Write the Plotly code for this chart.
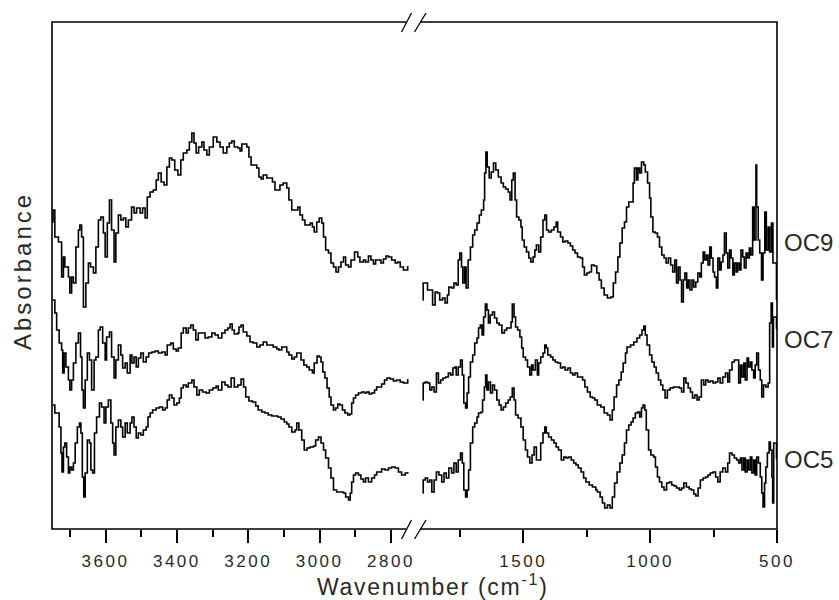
import plotly.graph_objects as go

# FTIR absorbance spectra (stacked), two wavenumber windows: high (O-H/C-H) and low (fingerprint)
# each list holds (wavenumber in cm-1, absorbance in a.u.) pairs

OC9_HIGH = [
    (3749, 3.07), (3747, 3.19), (3742, 2.92), (3732, 2.87), (3723, 2.52), (3718, 2.72), (3714, 2.62),
    (3704, 2.52), (3700, 2.36), (3695, 2.52), (3690, 2.46), (3683, 2.82), (3676, 2.99), (3672, 3.04),
    (3667, 2.92), (3662, 2.22), (3655, 2.46), (3648, 2.66), (3642, 2.62), (3634, 2.56), (3627, 2.82),
    (3620, 3.09), (3613, 3.12), (3606, 2.96), (3601, 2.72), (3595, 3.06), (3589, 3.29), (3583, 2.99),
    (3576, 2.67), (3571, 2.96), (3564, 3.14), (3557, 3.09), (3550, 3.11), (3543, 3.02), (3536, 3.09),
    (3527, 3.22), (3520, 3.16), (3513, 3.21), (3503, 3.16), (3496, 3.21), (3489, 3.11), (3483, 3.32),
    (3475, 3.37), (3466, 3.39), (3458, 3.49), (3452, 3.56), (3444, 3.47), (3436, 3.44), (3428, 3.62),
    (3421, 3.71), (3414, 3.69), (3406, 3.59), (3397, 3.54), (3389, 3.69), (3382, 3.76), (3372, 3.79),
    (3365, 3.87), (3358, 3.96), (3352, 3.86), (3346, 3.76), (3339, 3.82), (3330, 3.87), (3324, 3.79),
    (3316, 3.74), (3309, 3.82), (3298, 3.92), (3288, 3.87), (3279, 3.82), (3270, 3.76), (3260, 3.82),
    (3253, 3.86), (3246, 3.88), (3239, 3.82), (3229, 3.81), (3223, 3.78), (3218, 3.85), (3209, 3.85),
    (3204, 3.82), (3198, 3.72), (3192, 3.64), (3183, 3.64), (3176, 3.61), (3170, 3.52), (3164, 3.50),
    (3158, 3.54), (3148, 3.51), (3139, 3.51), (3132, 3.47), (3125, 3.39), (3117, 3.39), (3111, 3.44),
    (3102, 3.46), (3092, 3.41), (3086, 3.29), (3078, 3.19), (3069, 3.19), (3061, 3.22), (3055, 3.14),
    (3048, 3.09), (3041, 3.04), (3033, 3.04), (3026, 3.06), (3020, 3.02), (3015, 2.97), (3008, 3.07),
    (3001, 3.11), (2994, 3.06), (2989, 2.92), (2983, 2.79), (2975, 2.76), (2968, 2.66), (2961, 2.62),
    (2954, 2.57), (2947, 2.62), (2940, 2.67), (2933, 2.72), (2927, 2.64), (2919, 2.62), (2912, 2.69),
    (2902, 2.77), (2893, 2.72), (2887, 2.67), (2877, 2.69), (2871, 2.67), (2863, 2.73), (2856, 2.69),
    (2849, 2.65), (2843, 2.69), (2835, 2.69), (2828, 2.66), (2821, 2.70), (2814, 2.73), (2807, 2.72),
    (2798, 2.69), (2788, 2.66), (2781, 2.67), (2774, 2.62), (2765, 2.59), (2753, 2.63),
]

OC7_HIGH = [
    (3748, 2.29), (3742, 2.16), (3737, 1.99), (3730, 1.86), (3723, 1.79), (3720, 1.56), (3716, 1.76),
    (3711, 1.62), (3704, 1.49), (3700, 1.39), (3695, 1.49), (3690, 1.66), (3683, 1.86), (3676, 1.96),
    (3670, 1.72), (3666, 1.39), (3662, 1.21), (3657, 1.49), (3651, 1.76), (3645, 1.69), (3639, 1.39),
    (3632, 1.69), (3627, 1.72), (3620, 1.99), (3615, 2.02), (3608, 1.86), (3601, 1.69), (3597, 1.92),
    (3589, 1.97), (3583, 1.72), (3576, 1.51), (3571, 1.69), (3564, 1.84), (3557, 1.74), (3552, 1.61),
    (3545, 1.66), (3539, 1.56), (3531, 1.74), (3526, 1.66), (3520, 1.72), (3514, 1.62), (3508, 1.71),
    (3501, 1.76), (3494, 1.67), (3486, 1.72), (3479, 1.76), (3470, 1.77), (3461, 1.78), (3452, 1.76),
    (3442, 1.77), (3433, 1.74), (3427, 1.84), (3417, 1.86), (3410, 1.80), (3402, 1.78), (3396, 1.81),
    (3388, 1.96), (3382, 2.01), (3374, 1.96), (3368, 2.01), (3361, 2.04), (3354, 1.99), (3347, 1.89),
    (3340, 1.96), (3330, 1.96), (3321, 1.91), (3312, 1.92), (3302, 1.96), (3293, 1.94), (3284, 1.91),
    (3274, 1.96), (3265, 1.99), (3257, 2.01), (3251, 2.05), (3245, 1.99), (3239, 1.95), (3229, 1.96),
    (3226, 2.02), (3220, 2.04), (3214, 1.97), (3204, 1.93), (3195, 1.87), (3186, 1.86), (3176, 1.82),
    (3167, 1.84), (3158, 1.87), (3148, 1.84), (3139, 1.84), (3130, 1.82), (3120, 1.80), (3114, 1.79),
    (3106, 1.82), (3099, 1.82), (3092, 1.77), (3086, 1.74), (3078, 1.70), (3071, 1.72), (3064, 1.76),
    (3058, 1.76), (3052, 1.69), (3044, 1.64), (3036, 1.62), (3029, 1.59), (3020, 1.56), (3015, 1.66),
    (3007, 1.73), (3001, 1.72), (2996, 1.67), (2991, 1.57), (2985, 1.51), (2979, 1.41), (2973, 1.32),
    (2968, 1.24), (2961, 1.19), (2955, 1.21), (2949, 1.25), (2943, 1.24), (2936, 1.19), (2929, 1.16),
    (2921, 1.14), (2915, 1.15), (2910, 1.26), (2905, 1.31), (2899, 1.34), (2891, 1.36), (2882, 1.37),
    (2874, 1.36), (2868, 1.37), (2861, 1.35), (2854, 1.36), (2846, 1.39), (2840, 1.42), (2833, 1.42),
    (2826, 1.45), (2818, 1.49), (2811, 1.51), (2802, 1.50), (2793, 1.48), (2784, 1.49), (2774, 1.47),
    (2765, 1.46), (2753, 1.50),
]

OC5_HIGH = [
    (3748, 1.24), (3742, 1.16), (3735, 1.16), (3730, 1.02), (3725, 0.76), (3722, 0.57), (3718, 0.82),
    (3714, 0.86), (3709, 0.72), (3704, 0.56), (3700, 0.62), (3695, 0.59), (3690, 0.66), (3685, 0.86),
    (3679, 1.02), (3673, 1.06), (3669, 0.96), (3665, 0.52), (3661, 0.32), (3657, 0.56), (3651, 0.89),
    (3645, 0.86), (3641, 0.59), (3636, 0.56), (3631, 0.96), (3625, 1.12), (3617, 1.26), (3611, 1.22),
    (3604, 1.06), (3599, 1.22), (3592, 1.29), (3585, 1.06), (3580, 0.86), (3576, 0.74), (3571, 1.02),
    (3564, 1.09), (3557, 1.02), (3552, 0.92), (3545, 1.06), (3539, 0.96), (3531, 1.06), (3526, 1.12),
    (3520, 1.02), (3514, 0.91), (3508, 0.96), (3501, 0.94), (3494, 0.99), (3486, 1.02), (3481, 1.12),
    (3475, 1.16), (3468, 1.19), (3458, 1.21), (3449, 1.22), (3440, 1.19), (3433, 1.21), (3427, 1.29),
    (3421, 1.34), (3414, 1.31), (3408, 1.24), (3400, 1.26), (3393, 1.31), (3388, 1.41), (3382, 1.44),
    (3374, 1.42), (3368, 1.46), (3358, 1.49), (3352, 1.42), (3344, 1.34), (3337, 1.39), (3328, 1.37),
    (3318, 1.36), (3309, 1.39), (3299, 1.41), (3290, 1.43), (3284, 1.39), (3274, 1.47), (3265, 1.44),
    (3257, 1.42), (3248, 1.51), (3239, 1.42), (3229, 1.44), (3220, 1.50), (3213, 1.42), (3207, 1.32),
    (3198, 1.28), (3188, 1.27), (3179, 1.23), (3172, 1.19), (3162, 1.17), (3153, 1.16), (3144, 1.14),
    (3134, 1.13), (3125, 1.13), (3117, 1.12), (3108, 1.10), (3099, 1.07), (3092, 1.05), (3086, 1.02),
    (3078, 0.97), (3069, 0.99), (3064, 1.06), (3058, 0.99), (3050, 0.89), (3043, 0.79), (3035, 0.81),
    (3027, 0.82), (3017, 0.83), (3011, 0.89), (3003, 0.92), (2996, 0.86), (2989, 0.79), (2983, 0.71),
    (2975, 0.61), (2968, 0.51), (2961, 0.39), (2952, 0.37), (2943, 0.37), (2933, 0.36), (2927, 0.32),
    (2919, 0.29), (2914, 0.36), (2910, 0.47), (2905, 0.54), (2899, 0.56), (2891, 0.54), (2884, 0.50),
    (2877, 0.47), (2871, 0.51), (2863, 0.47), (2854, 0.51), (2846, 0.54), (2840, 0.57), (2833, 0.57),
    (2826, 0.60), (2816, 0.59), (2807, 0.61), (2798, 0.62), (2788, 0.61), (2779, 0.57), (2770, 0.54),
    (2760, 0.56), (2753, 0.57),
]

OC9_LOW = [
    (1896, 2.29), (1894, 2.46), (1886, 2.46), (1877, 2.39), (1868, 2.39), (1857, 2.24), (1847, 2.37),
    (1838, 2.36), (1829, 2.29), (1818, 2.31), (1808, 2.26), (1799, 2.34), (1793, 2.42), (1782, 2.41),
    (1773, 2.46), (1764, 2.44), (1756, 2.69), (1750, 2.76), (1743, 2.62), (1738, 2.46), (1731, 2.62),
    (1725, 2.41), (1717, 2.69), (1708, 2.82), (1699, 2.94), (1691, 2.99), (1682, 3.06), (1673, 3.14),
    (1665, 3.19), (1656, 3.29), (1652, 3.56), (1647, 3.77), (1642, 3.62), (1634, 3.51), (1626, 3.57),
    (1617, 3.66), (1608, 3.59), (1598, 3.52), (1587, 3.46), (1578, 3.42), (1569, 3.40), (1559, 3.37),
    (1552, 3.29), (1545, 3.49), (1539, 3.56), (1532, 3.29), (1526, 3.12), (1517, 3.09), (1509, 3.02),
    (1504, 2.89), (1496, 2.82), (1487, 2.77), (1478, 2.71), (1470, 2.67), (1461, 2.72), (1454, 2.79),
    (1448, 2.84), (1439, 2.77), (1431, 2.92), (1422, 3.09), (1415, 3.14), (1408, 2.99), (1400, 2.97),
    (1389, 2.99), (1379, 3.02), (1370, 3.07), (1364, 2.97), (1353, 2.92), (1344, 2.87), (1335, 2.88),
    (1324, 2.86), (1314, 2.83), (1305, 2.79), (1296, 2.76), (1286, 2.72), (1275, 2.71), (1266, 2.62),
    (1259, 2.54), (1249, 2.56), (1240, 2.57), (1231, 2.64), (1220, 2.63), (1210, 2.56), (1201, 2.49),
    (1192, 2.41), (1181, 2.34), (1168, 2.31), (1155, 2.32), (1145, 2.46), (1136, 2.57), (1127, 2.72),
    (1119, 2.86), (1110, 3.01), (1101, 3.07), (1093, 3.22), (1084, 3.27), (1075, 3.27), (1067, 3.46),
    (1062, 3.61), (1054, 3.49), (1048, 3.61), (1041, 3.56), (1034, 3.67), (1025, 3.64), (1019, 3.57),
    (1010, 3.46), (1002, 3.31), (997, 3.12), (989, 2.97), (980, 2.96), (971, 2.92), (963, 2.82),
    (954, 2.74), (945, 2.71), (937, 2.66), (928, 2.71), (919, 2.64), (911, 2.57), (903, 2.69),
    (896, 2.46), (889, 2.62), (882, 2.49), (876, 2.27), (869, 2.49), (863, 2.56), (856, 2.41),
    (850, 2.49), (843, 2.39), (835, 2.49), (828, 2.42), (820, 2.47), (812, 2.56), (804, 2.52),
    (798, 2.66), (791, 2.77), (785, 2.69), (778, 2.74), (772, 2.64), (765, 2.82), (759, 2.71),
    (752, 2.57), (746, 2.52), (739, 2.41), (733, 2.71), (726, 2.59), (720, 2.67), (713, 2.74),
    (707, 2.96), (700, 2.76), (694, 2.61), (687, 2.79), (681, 2.71), (674, 2.54), (668, 2.66),
    (661, 2.57), (655, 2.66), (648, 2.59), (642, 2.79), (635, 2.72), (629, 2.61), (622, 2.76),
    (616, 2.71), (609, 2.81), (603, 2.74), (596, 3.22), (590, 2.89), (583, 3.64), (580, 3.22),
    (574, 2.89), (568, 2.76), (561, 2.49), (555, 2.76), (548, 3.17), (542, 2.79), (535, 3.02),
    (529, 2.77), (522, 3.06), (516, 2.66), (502, 2.29),
]

OC7_LOW = [
    (1896, 1.29), (1894, 1.46), (1886, 1.47), (1877, 1.46), (1868, 1.39), (1860, 1.42), (1851, 1.37),
    (1842, 1.56), (1834, 1.46), (1825, 1.49), (1816, 1.51), (1805, 1.52), (1795, 1.56), (1786, 1.54),
    (1777, 1.61), (1769, 1.62), (1764, 1.54), (1756, 1.62), (1747, 1.69), (1740, 1.54), (1734, 1.26),
    (1727, 1.21), (1721, 1.36), (1715, 1.52), (1708, 1.67), (1699, 1.74), (1691, 1.86), (1682, 1.91),
    (1676, 2.01), (1669, 2.04), (1662, 1.94), (1656, 2.12), (1649, 2.25), (1643, 2.19), (1637, 2.06),
    (1630, 2.14), (1621, 2.17), (1613, 2.11), (1604, 2.06), (1595, 2.04), (1584, 1.96), (1574, 1.99),
    (1565, 2.01), (1556, 2.01), (1548, 2.07), (1543, 2.25), (1536, 2.12), (1530, 2.02), (1522, 1.99),
    (1513, 1.92), (1506, 1.81), (1500, 1.72), (1491, 1.69), (1483, 1.62), (1474, 1.54), (1467, 1.64),
    (1461, 1.59), (1452, 1.69), (1444, 1.54), (1439, 1.66), (1431, 1.72), (1422, 1.76), (1415, 1.84),
    (1409, 1.81), (1403, 1.74), (1392, 1.72), (1383, 1.69), (1374, 1.67), (1364, 1.66), (1353, 1.61),
    (1344, 1.62), (1335, 1.59), (1324, 1.61), (1314, 1.56), (1305, 1.54), (1296, 1.56), (1286, 1.52),
    (1275, 1.52), (1266, 1.49), (1257, 1.42), (1247, 1.37), (1236, 1.32), (1227, 1.31), (1218, 1.29),
    (1208, 1.24), (1194, 1.22), (1181, 1.16), (1168, 1.14), (1158, 1.09), (1149, 1.19), (1142, 1.32),
    (1132, 1.44), (1123, 1.49), (1114, 1.57), (1106, 1.66), (1097, 1.76), (1091, 1.82), (1077, 1.84),
    (1064, 1.87), (1052, 1.91), (1041, 1.94), (1032, 1.99), (1025, 2.03), (1019, 1.94), (1012, 1.84),
    (1002, 1.74), (993, 1.67), (984, 1.62), (976, 1.56), (967, 1.49), (958, 1.44), (950, 1.39),
    (941, 1.31), (932, 1.39), (921, 1.41), (908, 1.42), (896, 1.42), (885, 1.41), (876, 1.37),
    (867, 1.51), (859, 1.46), (850, 1.41), (841, 1.37), (833, 1.31), (824, 1.34), (815, 1.29),
    (807, 1.32), (798, 1.49), (789, 1.44), (781, 1.49), (772, 1.47), (763, 1.48), (752, 1.46),
    (742, 1.47), (733, 1.51), (724, 1.46), (714, 1.52), (703, 1.56), (694, 1.47), (687, 1.59),
    (677, 1.67), (668, 1.69), (659, 1.69), (651, 1.46), (644, 1.64), (638, 1.52), (631, 1.66),
    (625, 1.49), (618, 1.71), (612, 1.62), (605, 1.67), (599, 1.59), (592, 1.51), (586, 1.64),
    (580, 1.76), (573, 1.59), (566, 1.49), (560, 1.32), (553, 1.44), (544, 1.42), (535, 1.46),
    (529, 2.06), (523, 2.26), (518, 1.82), (514, 2.12), (502, 2.00),
]

OC5_LOW = [
    (1896, 0.36), (1894, 0.49), (1886, 0.51), (1877, 0.47), (1868, 0.49), (1860, 0.37), (1851, 0.49),
    (1842, 0.57), (1832, 0.54), (1821, 0.47), (1812, 0.56), (1803, 0.51), (1793, 0.61), (1782, 0.56),
    (1773, 0.66), (1764, 0.57), (1756, 0.69), (1747, 0.76), (1740, 0.66), (1734, 0.39), (1727, 0.32),
    (1721, 0.39), (1715, 0.59), (1708, 0.86), (1699, 1.02), (1691, 1.06), (1682, 1.12), (1676, 1.16),
    (1666, 1.17), (1660, 1.29), (1653, 1.42), (1648, 1.54), (1643, 1.39), (1637, 1.47), (1629, 1.36),
    (1621, 1.44), (1613, 1.39), (1604, 1.29), (1595, 1.24), (1587, 1.19), (1578, 1.22), (1569, 1.26),
    (1559, 1.29), (1551, 1.32), (1543, 1.41), (1536, 1.29), (1530, 1.14), (1520, 1.11), (1509, 1.02),
    (1500, 0.89), (1491, 0.79), (1483, 0.72), (1474, 0.66), (1465, 0.74), (1457, 0.82), (1448, 0.69),
    (1439, 0.69), (1431, 0.86), (1422, 0.96), (1415, 1.02), (1409, 0.96), (1400, 0.92), (1389, 0.89),
    (1379, 0.86), (1370, 0.82), (1361, 0.79), (1350, 0.69), (1340, 0.72), (1331, 0.71), (1322, 0.72),
    (1311, 0.69), (1301, 0.66), (1292, 0.64), (1283, 0.61), (1272, 0.57), (1262, 0.51), (1253, 0.47),
    (1240, 0.44), (1227, 0.42), (1214, 0.39), (1208, 0.37), (1197, 0.32), (1188, 0.26), (1179, 0.21),
    (1168, 0.24), (1158, 0.21), (1149, 0.32), (1140, 0.46), (1130, 0.57), (1119, 0.66), (1110, 0.74),
    (1101, 0.86), (1093, 0.99), (1084, 1.04), (1075, 1.07), (1067, 1.11), (1058, 1.16), (1049, 1.17),
    (1041, 1.12), (1034, 1.21), (1028, 1.24), (1021, 1.19), (1015, 0.99), (1006, 0.79), (997, 0.74),
    (986, 0.72), (979, 0.62), (971, 0.52), (963, 0.47), (954, 0.42), (945, 0.39), (935, 0.46),
    (924, 0.47), (915, 0.44), (906, 0.43), (896, 0.41), (885, 0.39), (876, 0.41), (867, 0.46),
    (857, 0.42), (846, 0.40), (837, 0.39), (828, 0.35), (820, 0.33), (811, 0.41), (802, 0.49),
    (791, 0.51), (781, 0.52), (772, 0.54), (763, 0.56), (752, 0.57), (742, 0.52), (733, 0.47),
    (724, 0.57), (714, 0.61), (703, 0.57), (694, 0.66), (687, 0.76), (677, 0.74), (668, 0.71),
    (659, 0.69), (651, 0.66), (644, 0.71), (638, 0.59), (631, 0.71), (625, 0.57), (618, 0.69),
    (612, 0.59), (605, 0.72), (599, 0.56), (592, 0.69), (586, 0.54), (580, 0.72), (573, 0.66),
    (566, 0.52), (560, 0.36), (555, 0.22), (549, 0.46), (544, 0.62), (538, 0.76), (531, 0.87),
    (526, 0.79), (520, 0.52), (517, 0.26), (513, 0.86), (502, 0.70),
]

SAMPLE_NAMES = ["OC9", "OC7", "OC5"]
LABEL_LEVELS = [2.87, 1.90, 0.70]

HIGH_RANGE = [3750, 2738]
LOW_RANGE = [1934, 500]
HIGH_TICKS = [3600, 3400, 3200, 3000, 2800]
HIGH_MINOR = [3700, 3500, 3300, 3100, 2900]
LOW_TICKS = [1500, 1000, 500]
LOW_MINOR = [1750, 1250, 750]
Y_RANGE = [0, 5.07]

# page geometry
WIDTH, HEIGHT = 839, 600
M_L, M_R, M_T, M_B = 52, 62, 22, 71
PLOT_W = WIDTH - M_L - M_R
PLOT_H = HEIGHT - M_T - M_B
SPLIT = 0.498  # fraction of the width taken by the high-wavenumber window

FONT = "Liberation Sans, Arial, sans-serif"
TEXT = "#2a2a2a"
INK = "black"


def px_x(px):
    return (px - M_L) / PLOT_W


def px_y(py):
    return (HEIGHT - M_B - py) / PLOT_H


def spaced(s, gap):
    return f'<span style="letter-spacing:{gap}px">{s}</span>'


fig = go.Figure()

for name, hi, lo in zip(SAMPLE_NAMES, [OC9_HIGH, OC7_HIGH, OC5_HIGH], [OC9_LOW, OC7_LOW, OC5_LOW]):
    for seg, xa in ((hi, "x"), (lo, "x2")):
        wn, ab = zip(*seg)
        fig.add_trace(go.Scatter(x=list(wn), y=list(ab), xaxis=xa, yaxis="y", mode="lines",
                                 line=dict(color=INK, width=1.6, shape="hv"),
                                 name=name, showlegend=False))

axis_common = dict(
    showgrid=False, zeroline=False, showline=False,
    ticks="outside", ticklen=13, tickwidth=1.5, tickcolor=INK,
    tickfont=dict(family=FONT, size=17, color=TEXT),
    ticklabelstandoff=4,
    anchor="y",
)

fig.update_layout(
    width=WIDTH, height=HEIGHT,
    margin=dict(l=M_L, r=M_R, t=M_T, b=M_B),
    paper_bgcolor="white", plot_bgcolor="white",
    xaxis=dict(domain=[0, SPLIT], range=HIGH_RANGE, tickmode="array", tickvals=HIGH_TICKS,
               ticktext=[spaced(v, 2.5) for v in HIGH_TICKS],
               minor=dict(tickmode="array", tickvals=HIGH_MINOR, ticks="outside", ticklen=7,
                          tickwidth=1.5, tickcolor=INK),
               **axis_common),
    xaxis2=dict(domain=[SPLIT, 1], range=LOW_RANGE, tickmode="array", tickvals=LOW_TICKS,
                ticktext=[spaced(v, 2.5) for v in LOW_TICKS],
                minor=dict(tickmode="array", tickvals=LOW_MINOR, ticks="outside", ticklen=7,
                           tickwidth=1.5, tickcolor=INK),
                **axis_common),
    yaxis=dict(domain=[0, 1], range=Y_RANGE, showgrid=False, zeroline=False, showline=False,
               showticklabels=False, ticks=""),
)

# frame with a gap and break marks where the two windows meet
shapes = [
    dict(type="rect", xref="paper", yref="paper", x0=0, x1=1, y0=0, y1=1,
         line=dict(color=INK, width=1.6), fillcolor="rgba(0,0,0,0)", layer="above"),
]
for yc in (M_T, HEIGHT - M_B):
    shapes.append(dict(type="rect", xref="paper", yref="paper",
                       x0=px_x(406), x1=px_x(420), y0=px_y(yc + 3), y1=px_y(yc - 3),
                       line=dict(width=0), fillcolor="white", layer="above"))
    for x_lo, x_hi in ((401.5, 411.5), (414.5, 426)):
        shapes.append(dict(type="line", xref="paper", yref="paper",
                           x0=px_x(x_lo), x1=px_x(x_hi), y0=px_y(yc + 10), y1=px_y(yc - 9),
                           line=dict(color=INK, width=1.3), layer="above"))
fig.update_layout(shapes=shapes)

annotations = [
    dict(text=spaced("Wavenumber (cm<sup>-1</sup>)", 1.7), xref="paper", yref="paper",
         x=px_x(433), y=px_y(585), xanchor="center", yanchor="middle", showarrow=False,
         font=dict(family=FONT, size=23, color=TEXT)),
    dict(text=spaced("Absorbance", 3), xref="paper", yref="paper", textangle=-90,
         x=px_x(22), y=px_y(271), xanchor="center", yanchor="middle", showarrow=False,
         font=dict(family=FONT, size=24, color=TEXT)),
]
for name, level in zip(SAMPLE_NAMES, LABEL_LEVELS):
    annotations.append(dict(text=name, xref="paper", yref="y", x=px_x(782), y=level,
                            xanchor="left", yanchor="middle", showarrow=False,
                            font=dict(family=FONT, size=24, color=TEXT)))
fig.update_layout(annotations=annotations)

fig.write_html("out.html")
